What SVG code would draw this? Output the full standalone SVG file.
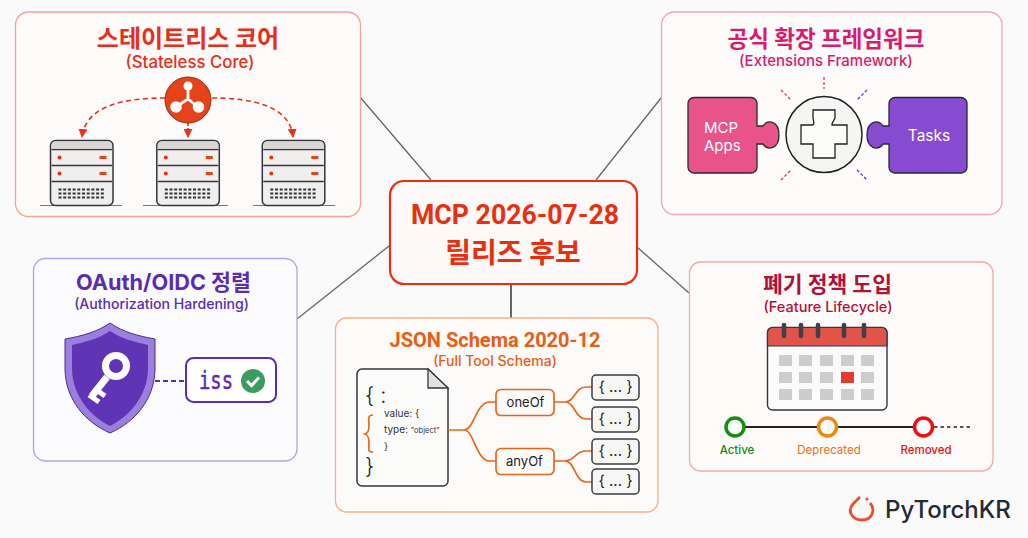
<svg xmlns="http://www.w3.org/2000/svg" xmlns:xlink="http://www.w3.org/1999/xlink" width="1028" height="538" viewBox="0 0 1028 538">
<style>
text{font-family:"Inter","Noto Sans CJK KR","Noto Sans",sans-serif}
.card{fill:#fdfafa;stroke-width:1.3}
.t{font-weight:700;text-anchor:middle}
.rb{font-family:"Roboto","Noto Sans CJK KR",sans-serif}
.s{font-weight:500;text-anchor:middle}
.link{stroke:#666;stroke-width:1.3;fill:none}
.or{stroke:#e8651a;stroke-width:1.7;fill:none}
.sb{fill:#f7f6f5;stroke:#3a3d42;stroke-width:1.5}
.br{font-family:"Inter",sans-serif;font-size:15px;fill:#222;text-anchor:middle}
.cell{fill:#cdcdcd}
</style>
<defs>
<marker id="ah" viewBox="0 0 10 10" refX="9" refY="5" markerWidth="9" markerHeight="9" markerUnits="userSpaceOnUse" orient="auto"><path d="M0,0L10,5L0,10Z" fill="#e8301a"/></marker>
<g id="srv">
<rect x="0" y="0" width="62.500" height="65" rx="5" fill="#f1efee" stroke="#33363b" stroke-width="1.500"/>
<path d="M1,9H61.500M1,25H61.500M1,41H61.500" stroke="#33363b" stroke-width="1.300"/>
<path d="M1,5a4,4 0 0 1 4,-4H57.500a4,4 0 0 1 4,4V8.300H1Z" fill="#d9d7d5"/>
<circle cx="9" cy="17" r="2" fill="#e8301a"/><circle cx="9" cy="33" r="2" fill="#e8301a"/>
<rect x="49" y="15.500" width="7" height="3" fill="#e8421a"/><rect x="49" y="31.500" width="7" height="3" fill="#e8421a"/>
<path d="M8,49H55M8,53H55M8,57H55" stroke="#333" stroke-width="2" stroke-dasharray="3 1.700" fill="none"/>
</g>
</defs>
<rect width="1028" height="538" fill="#fafafa"/>
<g id="connectors">
<path class="link" d="M360,97L431,180M661,98L596,180M389,246L297,319M637,247L689,293"/>
<path class="link" d="M511,284V318" style="stroke-width:2"/>
</g>
<g id="core">
<rect class="card" x="15.500" y="12" width="345" height="204.500" rx="13" stroke="#f8a195"/>
<text class="t" x="188" y="47" font-size="24" fill="#e62e18">스테이트리스 코어</text>
<text class="s" x="190" y="68" font-size="16.800" fill="#e62e18">(Stateless Core)</text>
<path d="M40,205.500H122M143,205.500H228M253,205.500H335" stroke="#777" stroke-width="1.200"/>
<use xlink:href="#srv" href="#srv" x="50.500" y="140.500"/>
<use xlink:href="#srv" href="#srv" x="156.800" y="140.500"/>
<use xlink:href="#srv" href="#srv" x="262.300" y="140.500"/>
<g fill="none" stroke="#e8301a" stroke-width="1.600" marker-end="url(#ah)">
<path stroke-dasharray="5 3.500" d="M165,98C128,98 86,104 82,137"/>
<path stroke-dasharray="5 3.500" d="M212,98C250,98 290,105 293,137"/>
<path stroke-dasharray="4 2" d="M188,122V137"/>
</g>
<circle cx="188" cy="100" r="23" fill="#e6431a" stroke="#8f2a14" stroke-width="1"/>
<path d="M188,86V99L176,107M188,99L198,107" stroke="#fff" stroke-width="2.800" fill="none"/>
<circle cx="188" cy="86" r="4.500" fill="#fff"/><circle cx="176" cy="107" r="5.800" fill="#fff"/><circle cx="198.500" cy="107" r="5.800" fill="#fff"/>
</g>
<g id="extensions">
<rect class="card" x="661.500" y="12" width="340.500" height="202.500" rx="13" stroke="#f2a3c4"/>
<text class="t" x="826" y="47" font-size="22.500" fill="#d81b6e">공식 확장 프레임워크</text>
<text class="s" x="826" y="66" font-size="15" fill="#d81b6e">(Extensions Framework)</text>
<path d="M694,97.500H751a6,6 0 0 1 6,6V126H763C768,119 779,121 779,135C779,149 768,151 763,144H757V167a6,6 0 0 1 -6,6H694a6,6 0 0 1 -6,-6V103.500a6,6 0 0 1 6,-6Z" fill="#e8548a" stroke="#33262c" stroke-width="1.300"/>
<path d="M961,97.500H895a6,6 0 0 0 -6,6V126H883C878,119 867,121 867,135C867,149 878,151 883,144H889V167a6,6 0 0 0 6,6H961a6,6 0 0 0 6,-6V103.500a6,6 0 0 0 -6,-6Z" fill="#864bd0" stroke="#2d2638" stroke-width="1.300"/>
<text x="704" y="133" font-size="15" font-weight="400" fill="#fff">MCP</text>
<text x="704" y="151" font-size="15" font-weight="400" fill="#fff">Apps</text>
<text x="929" y="141" font-size="15.500" font-weight="400" fill="#fff" text-anchor="middle">Tasks</text>
<circle cx="824" cy="134.500" r="38" fill="#f5f5f3" stroke="#222" stroke-width="1.500"/>
<path d="M813,110H835V117.500C835,120 832,121 832,125H847V144H835V158H813V144H801V125H812C815,125 813.500,121 813,118Z" fill="#fbfbfa" stroke="#222" stroke-width="1.300"/>
<g fill="none" stroke-width="1.300" stroke-dasharray="3 2">
<path stroke="#e0306f" d="M824,77V89M781,90L791,100M781,180L791,170"/>
<path stroke="#5a35d0" d="M867,90L857,100M857,170L867,180"/>
</g>
</g>
<g id="oauth">
<rect class="card" x="33.500" y="258.500" width="263.500" height="202.500" rx="12" stroke="#b9a0ea" style="fill:#fbfbfd"/>
<text class="t" x="163.500" y="290" font-size="21.700" fill="#5a2bb5">OAuth/OIDC 정렬</text>
<text class="s" x="161.500" y="309" font-size="14.100" fill="#5a2bb5">(Authorization Hardening)</text>
<path d="M110,323C97,332 82,336 65,339V370C66,400 85,422 110,433C135,422 154,400 155,370V339C138,336 123,332 110,323Z" fill="#9c7fdc" stroke="#4b2a94" stroke-width="1"/>
<path d="M110,331C98,339 85,342 72,345V370C73,396 90,416 110,426C130,416 147,396 148,370V345C135,342 122,339 110,331Z" fill="#5f35b5"/>
<circle cx="116" cy="366" r="10.500" fill="none" stroke="#fff" stroke-width="7"/>
<path d="M107,377L92,396" stroke="#fff" stroke-width="7"/>
<path d="M94,388L105,396M89,395L99,402" stroke="#fff" stroke-width="5"/>
<path d="M155,381H186" stroke="#5a2bb5" stroke-width="1.800" stroke-dasharray="5 3" fill="none"/>
<rect x="186" y="358" width="90" height="44" rx="7.500" fill="#fff" stroke="#5a2bb5" stroke-width="2"/>
<text x="199" y="388.500" font-size="25" stroke="#5a2bb5" stroke-width="0.500" style="font-family:'DejaVu Sans Mono',monospace" fill="#5a2bb5" textLength="34" lengthAdjust="spacingAndGlyphs">iss</text>
<circle cx="253" cy="381" r="12" fill="#3a9d5f"/>
<path d="M247,381L251.500,385.500L259,377.500" stroke="#fff" stroke-width="3" fill="none"/>
</g>
<g id="schema">
<rect class="card" x="335.500" y="318" width="322.500" height="194" rx="11" stroke="#f7b08a"/>
<text class="t rb" x="495" y="347" font-size="20" fill="#e85d12">JSON Schema 2020-12</text>
<text class="s" x="495" y="366" font-size="14" fill="#e85d12">(Full Tool Schema)</text>
<path d="M362,369H428L448,388V481a5,5 0 0 1 -5,5H362a5,5 0 0 1 -5,-5V374a5,5 0 0 1 5,-5Z" fill="#fbfbfa" stroke="#33363b" stroke-width="1.500"/>
<path d="M428,369V388H448Z" fill="#e2e2e2" stroke="#33363b" stroke-width="1.300"/>
<text x="365" y="403" font-size="22" font-weight="300" fill="#222">{ :</text>
<text x="384" y="417" font-size="10" fill="#333">value: {</text>
<text x="384" y="433" font-size="10" fill="#333">type: <tspan font-size="7.500">"object"</tspan></text>
<text x="384" y="450" font-size="10" fill="#333">}</text>
<text x="365" y="474" font-size="22" font-weight="300" fill="#222">}</text>
<path class="or" d="M373,415C367,415 369,420 369,425C369,431 368,433 365,434C368,435 369,437 369,443C369,448 367,452 373,452"/>
<path class="or" d="M448,430H464C474,430 476,402 490,402H496M464,430C474,430 476,461 490,461H496"/>
<path class="or" d="M554,402H565C575,402 575,387 586,387H592M565,402C575,402 575,419 586,419H592"/>
<path class="or" d="M554,461H565C575,461 575,451 586,451H592M565,461C575,461 575,482 586,482H592"/>
<rect x="496" y="389.500" width="58" height="26" rx="5" fill="#fdfafa" stroke="#e8651a" stroke-width="1.700"/>
<rect x="496" y="448.500" width="58" height="26" rx="5" fill="#fdfafa" stroke="#e8651a" stroke-width="1.700"/>
<text x="525.500" y="407" font-size="13" text-anchor="middle" fill="#222">oneOf</text>
<text x="524.500" y="466" font-size="13" text-anchor="middle" fill="#222">anyOf</text>
<rect class="sb" x="592" y="375" width="47" height="25" rx="4"/>
<rect class="sb" x="592" y="407" width="47" height="25" rx="4"/>
<rect class="sb" x="592" y="439" width="47" height="25" rx="4"/>
<rect class="sb" x="592" y="469" width="47" height="25" rx="4"/>
<text class="br" x="615.500" y="392">{ ... }</text>
<text class="br" x="615.500" y="424">{ ... }</text>
<text class="br" x="615.500" y="456">{ ... }</text>
<text class="br" x="615.500" y="486">{ ... }</text>
</g>
<g id="lifecycle">
<rect class="card" x="689.500" y="262" width="303.500" height="209" rx="11" stroke="#f6a9a9"/>
<text class="t" x="827.500" y="292" font-size="21.500" fill="#ae1238">폐기 정책 도입</text>
<text class="s" x="828" y="312" font-size="14.500" fill="#ae1238">(Feature Lifecycle)</text>
<rect x="767.500" y="327.500" width="119.500" height="82.500" rx="5" fill="#fbfbfb" stroke="#33363b" stroke-width="1.400"/>
<path d="M767.500,346V332.500a5,5 0 0 1 5,-5H882a5,5 0 0 1 5,5V346Z" fill="#e0544b" stroke="#33363b" stroke-width="1.200"/>
<path d="M784,325V336M801,325V336M818,325V336M844,325V336M864,325V336" stroke="#3e4146" stroke-width="4.500" stroke-linecap="round"/>
<g class="cell">
<rect x="779" y="355" width="13" height="11"/><rect x="799" y="355" width="13" height="11"/><rect x="820" y="355" width="13" height="11"/><rect x="841" y="355" width="13" height="11"/><rect x="861" y="355" width="13" height="11"/>
<rect x="779" y="372" width="13" height="11"/><rect x="799" y="372" width="13" height="11"/><rect x="820" y="372" width="13" height="11"/><rect x="841" y="372" width="13" height="11" fill="#e23c2e"/><rect x="861" y="372" width="13" height="11"/>
<rect x="779" y="389" width="13" height="11"/><rect x="799" y="389" width="13" height="11"/><rect x="820" y="389" width="13" height="11"/><rect x="841" y="389" width="13" height="11"/><rect x="861" y="389" width="13" height="11"/>
</g>
<path d="M744,427H915" stroke="#222" stroke-width="2"/>
<path d="M934,427H971" stroke="#222" stroke-width="1.500" stroke-dasharray="3.500 3"/>
<circle cx="735" cy="427" r="9" fill="#fbfbfb" stroke="#119010" stroke-width="3.500"/>
<circle cx="827.500" cy="427" r="9" fill="#fbfbfb" stroke="#ef860f" stroke-width="3.500"/>
<circle cx="923.500" cy="427" r="9" fill="#fbfbfb" stroke="#ee0e0e" stroke-width="3.500"/>
<text x="737" y="454" font-size="11.500" font-weight="500" text-anchor="middle" fill="#118a10">Active</text>
<text x="829" y="454" font-size="11.500" font-weight="400" text-anchor="middle" fill="#ec7214">Deprecated</text>
<text x="926" y="454" font-size="11.500" font-weight="500" text-anchor="middle" fill="#e8100f">Removed</text>
</g>
<g id="center">
<rect x="390" y="181" width="247" height="103" rx="14" fill="#fdf9f8" stroke="#ee2d0e" stroke-width="2.200"/>
<text class="t rb" x="515" y="224" font-size="27" fill="#e8300f" textLength="208" lengthAdjust="spacingAndGlyphs">MCP 2026-07-28</text>
<text class="t" x="513" y="263" font-size="28" fill="#e8300f">릴리즈 후보</text>
</g>
<g id="logo">
<path d="M860,497L853,504C847,511 852,520 862,520C872,520 876,510 870,503" fill="none" stroke="#ee4c2c" stroke-width="2.800"/>
<circle cx="867" cy="499" r="1.500" fill="#ee4c2c"/>
<text x="885" y="518" font-size="24" font-weight="500" fill="#252a33">PyTorchKR</text>
</g>
</svg>
